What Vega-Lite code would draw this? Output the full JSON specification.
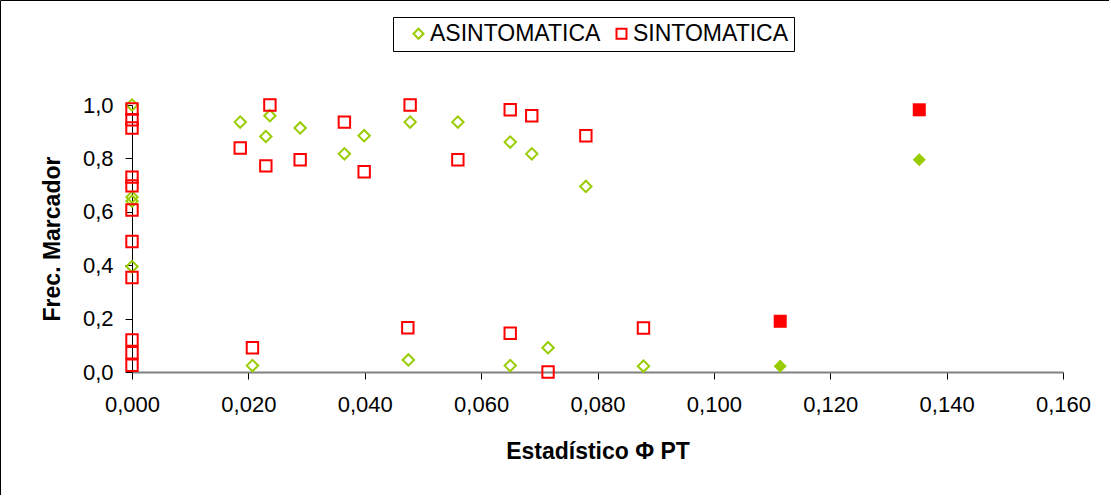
{
  "$schema": "https://vega.github.io/schema/vega-lite/v6.json",
  "width": 1109,
  "height": 495,
  "autosize": "none",
  "padding": 0,
  "background": "white",
  "config": {
    "font": "Liberation Sans",
    "view": {"stroke": "#000000", "strokeWidth": 1},
    "axis": {"grid": false}
  },
  "data": {
    "values": [
      {"x": 0, "y": 1.0, "grupo": "ASINTOMATICA", "relleno": false},
      {"x": 0, "y": 0.655, "grupo": "ASINTOMATICA", "relleno": false},
      {"x": 0, "y": 0.64, "grupo": "ASINTOMATICA", "relleno": false},
      {"x": 0, "y": 0.395, "grupo": "ASINTOMATICA", "relleno": false},
      {"x": 0.0186, "y": 0.936, "grupo": "ASINTOMATICA", "relleno": false},
      {"x": 0.0237, "y": 0.96, "grupo": "ASINTOMATICA", "relleno": false},
      {"x": 0.023, "y": 0.882, "grupo": "ASINTOMATICA", "relleno": false},
      {"x": 0.0289, "y": 0.914, "grupo": "ASINTOMATICA", "relleno": false},
      {"x": 0.0365, "y": 0.817, "grupo": "ASINTOMATICA", "relleno": false},
      {"x": 0.0399, "y": 0.885, "grupo": "ASINTOMATICA", "relleno": false},
      {"x": 0.0478, "y": 0.936, "grupo": "ASINTOMATICA", "relleno": false},
      {"x": 0.056, "y": 0.936, "grupo": "ASINTOMATICA", "relleno": false},
      {"x": 0.065, "y": 0.861, "grupo": "ASINTOMATICA", "relleno": false},
      {"x": 0.0687, "y": 0.817, "grupo": "ASINTOMATICA", "relleno": false},
      {"x": 0.078, "y": 0.695, "grupo": "ASINTOMATICA", "relleno": false},
      {"x": 0.0207, "y": 0.024, "grupo": "ASINTOMATICA", "relleno": false},
      {"x": 0.0475, "y": 0.045, "grupo": "ASINTOMATICA", "relleno": false},
      {"x": 0.065, "y": 0.024, "grupo": "ASINTOMATICA", "relleno": false},
      {"x": 0.0715, "y": 0.091, "grupo": "ASINTOMATICA", "relleno": false},
      {"x": 0.0879, "y": 0.022, "grupo": "ASINTOMATICA", "relleno": false},
      {"x": 0.1114, "y": 0.022, "grupo": "ASINTOMATICA", "relleno": true},
      {"x": 0.1353, "y": 0.795, "grupo": "ASINTOMATICA", "relleno": true},
      {"x": 0, "y": 0.985, "grupo": "SINTOMATICA", "relleno": false},
      {"x": 0, "y": 0.945, "grupo": "SINTOMATICA", "relleno": false},
      {"x": 0, "y": 0.914, "grupo": "SINTOMATICA", "relleno": false},
      {"x": 0, "y": 0.73, "grupo": "SINTOMATICA", "relleno": false},
      {"x": 0, "y": 0.697, "grupo": "SINTOMATICA", "relleno": false},
      {"x": 0, "y": 0.607, "grupo": "SINTOMATICA", "relleno": false},
      {"x": 0, "y": 0.489, "grupo": "SINTOMATICA", "relleno": false},
      {"x": 0, "y": 0.354, "grupo": "SINTOMATICA", "relleno": false},
      {"x": 0, "y": 0.12, "grupo": "SINTOMATICA", "relleno": false},
      {"x": 0, "y": 0.072, "grupo": "SINTOMATICA", "relleno": false},
      {"x": 0, "y": 0.025, "grupo": "SINTOMATICA", "relleno": false},
      {"x": 0.0237, "y": 1.0, "grupo": "SINTOMATICA", "relleno": false},
      {"x": 0.0186, "y": 0.839, "grupo": "SINTOMATICA", "relleno": false},
      {"x": 0.023, "y": 0.772, "grupo": "SINTOMATICA", "relleno": false},
      {"x": 0.0289, "y": 0.795, "grupo": "SINTOMATICA", "relleno": false},
      {"x": 0.0365, "y": 0.936, "grupo": "SINTOMATICA", "relleno": false},
      {"x": 0.0399, "y": 0.75, "grupo": "SINTOMATICA", "relleno": false},
      {"x": 0.0478, "y": 1.0, "grupo": "SINTOMATICA", "relleno": false},
      {"x": 0.056, "y": 0.795, "grupo": "SINTOMATICA", "relleno": false},
      {"x": 0.065, "y": 0.982, "grupo": "SINTOMATICA", "relleno": false},
      {"x": 0.0687, "y": 0.96, "grupo": "SINTOMATICA", "relleno": false},
      {"x": 0.078, "y": 0.885, "grupo": "SINTOMATICA", "relleno": false},
      {"x": 0.0207, "y": 0.091, "grupo": "SINTOMATICA", "relleno": false},
      {"x": 0.0474, "y": 0.166, "grupo": "SINTOMATICA", "relleno": false},
      {"x": 0.065, "y": 0.145, "grupo": "SINTOMATICA", "relleno": false},
      {"x": 0.0715, "y": 0.0, "grupo": "SINTOMATICA", "relleno": false},
      {"x": 0.0879, "y": 0.165, "grupo": "SINTOMATICA", "relleno": false},
      {"x": 0.1114, "y": 0.19, "grupo": "SINTOMATICA", "relleno": true},
      {"x": 0.1353, "y": 0.982, "grupo": "SINTOMATICA", "relleno": true}
    ]
  },
  "encoding": {
    "x": {
      "field": "x",
      "type": "quantitative",
      "scale": {"domain": [0, 0.16], "range": [132, 1063], "nice": false, "zero": false},
      "axis": {
        "orient": "bottom",
        "offset": -123,
        "values": [0, 0.02, 0.04, 0.06, 0.08, 0.1, 0.12, 0.14, 0.16],
        "labelExpr": "replace(format(datum.value, '.3f'), '.', ',')",
        "domainColor": "#808080",
        "domainWidth": 2,
        "tickColor": "#000000",
        "tickSize": 7,
        "tickWidth": 1,
        "labelFontSize": 22,
        "labelColor": "#000000",
        "labelPadding": 15,
        "labelFlush": false,
        "title": "Estadístico Φ PT",
        "titleFontSize": 23,
        "titleFontWeight": "bold",
        "titleColor": "#000000",
        "titlePadding": 25
      }
    },
    "y": {
      "field": "y",
      "type": "quantitative",
      "scale": {"domain": [0, 1], "range": [372, 105], "nice": false},
      "axis": {
        "orient": "left",
        "offset": -132,
        "values": [0, 0.2, 0.4, 0.6, 0.8, 1.0],
        "labelExpr": "replace(format(datum.value, '.1f'), '.', ',')",
        "domainColor": "#000000",
        "domainWidth": 1,
        "tickColor": "#000000",
        "tickSize": 7,
        "labelFontSize": 22,
        "labelColor": "#000000",
        "labelPadding": 12,
        "labelFlush": false,
        "title": "Frec. Marcador",
        "titleFontSize": 23,
        "titleFontWeight": "bold",
        "titleColor": "#000000",
        "titlePadding": 18
      }
    }
  },
  "layer": [
    {
      "transform": [{"filter": "!datum.relleno"}],
      "mark": {"type": "point", "filled": false, "strokeWidth": 2, "size": 130, "opacity": 1},
      "encoding": {
        "color": {
          "field": "grupo",
          "type": "nominal",
          "scale": {"domain": ["ASINTOMATICA", "SINTOMATICA"], "range": ["#99CC00", "#FF0000"]},
          "legend": {
            "title": null,
            "orient": "none",
            "legendX": 393,
            "legendY": 17,
            "direction": "horizontal",
            "strokeColor": "#000000",
            "padding": 5,
            "labelFontSize": 23,
            "labelColor": "#000000",
            "labelLimit": 0,
            "symbolSize": 100,
            "symbolStrokeWidth": 2,
            "symbolOffset": 9,
            "labelOffset": 0,
            "columnPadding": 0
          }
        },
        "shape": {
          "field": "grupo",
          "type": "nominal",
          "scale": {"domain": ["ASINTOMATICA", "SINTOMATICA"], "range": ["diamond", "square"]},
          "legend": {
            "title": null,
            "orient": "none",
            "legendX": 393,
            "legendY": 17,
            "direction": "horizontal",
            "strokeColor": "#000000",
            "padding": 5,
            "labelFontSize": 23,
            "labelColor": "#000000",
            "labelLimit": 0,
            "symbolSize": 100,
            "symbolStrokeWidth": 2,
            "symbolOffset": 9,
            "labelOffset": 0,
            "columnPadding": 0
          }
        }
      }
    },
    {
      "transform": [{"filter": "datum.relleno && datum.grupo == 'ASINTOMATICA'"}],
      "mark": {"type": "point", "filled": true, "shape": "diamond", "color": "#99CC00", "size": 170, "opacity": 1},
      "encoding": {}
    },
    {
      "transform": [{"filter": "datum.relleno && datum.grupo == 'SINTOMATICA'"}],
      "mark": {"type": "point", "filled": true, "shape": "square", "color": "#FF0000", "size": 170, "opacity": 1},
      "encoding": {}
    }
  ]
}
